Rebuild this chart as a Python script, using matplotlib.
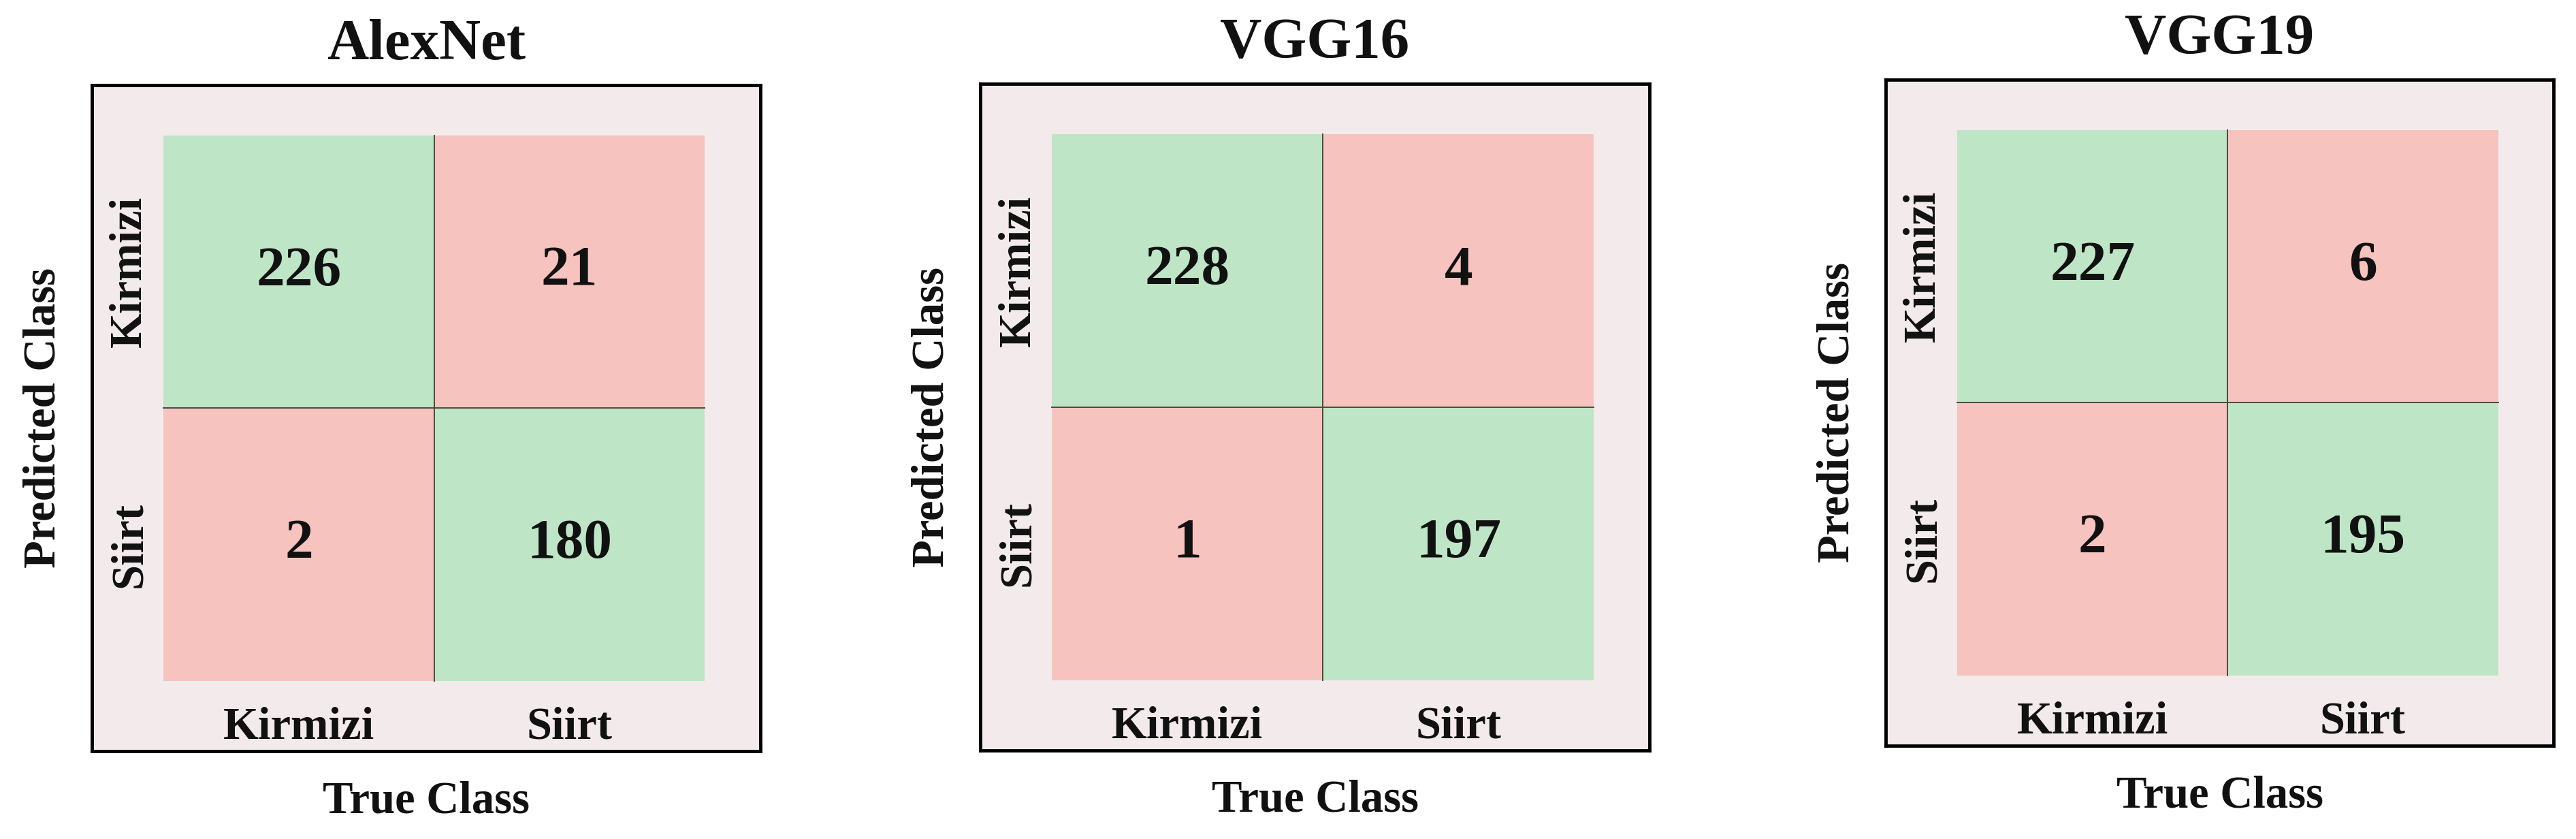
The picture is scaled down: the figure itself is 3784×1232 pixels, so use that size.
import numpy as np
import matplotlib
matplotlib.use("Agg")
import matplotlib.pyplot as plt
from matplotlib.colors import ListedColormap

# ---- data ----
models = ["AlexNet", "VGG16", "VGG19"]
classes = ["Kirmizi", "Siirt"]
alexnet_cm = [[226, 21], [2, 180]]
vgg16_cm = [[228, 4], [1, 197]]
vgg19_cm = [[227, 6], [2, 195]]
matrices = [alexnet_cm, vgg16_cm, vgg19_cm]
x_label = "True Class"
y_label = "Predicted Class"

# ---- style ----
plt.rcParams['font.family'] = ['Liberation Serif', 'DejaVu Serif']
plt.rcParams['font.weight'] = 'bold'
W, H = 3784, 1232
DPI = 100
fig = plt.figure(figsize=(W / DPI, H / DPI), dpi=DPI)

green = "#BEE6C6"
pink = "#F7C3BF"
panel_bg = "#F3EAEB"
cmap = ListedColormap([pink, green])

# box positions in pixels (left, top, right, bottom)
boxes = [(135, 125, 1117, 1103), (1440, 123, 2423, 1102), (2770, 117, 3751, 1095)]

for name, cm, (l, t, r, b) in zip(models, matrices, boxes):
    ax = fig.add_axes([l / W, 1 - b / H, (r - l) / W, (b - t) / H])
    ax.set_facecolor(panel_bg)
    cm = np.array(cm)
    correct = np.eye(len(classes))
    ax.pcolormesh(np.arange(len(classes) + 1), np.arange(len(classes) + 1),
                  correct, cmap=cmap, vmin=0, vmax=1, shading='flat')
    ax.set_xlim(-0.265, 2.205)
    ax.set_ylim(2.258, -0.185)
    # divider lines
    ax.plot([1, 1], [0, 2], color="#4a4a40", lw=1.4)
    ax.plot([0, 2], [1, 1], color="#4a4a40", lw=1.4)
    for i in range(len(classes)):
        for j in range(len(classes)):
            ax.text(j + 0.5, i + 0.5, str(cm[i, j]), ha='center', va='center',
                    fontsize=60, fontweight='bold', color='#111111')
    for k, c in enumerate(classes):
        ax.text(k + 0.5, 2.212, c, ha='center', va='baseline',
                fontsize=48, fontweight='bold', color='#111111')
        ax.text(-0.083, k + 0.5, c, ha='center', va='baseline', rotation=90,
                rotation_mode='anchor', fontsize=48, fontweight='bold', color='#111111')
    ax.set_xticks([])
    ax.set_yticks([])
    for sp in ax.spines.values():
        sp.set_linewidth(3.5)
        sp.set_color('black')
    ax.text(0.5, 1 + 38 / (b - t), name, transform=ax.transAxes, ha='center',
            va='baseline', fontsize=61, fontweight='bold', color='#111111')
    ax.text(0.5, -90 / (b - t), x_label, transform=ax.transAxes, ha='center',
            va='baseline', fontsize=48, fontweight='bold', color='#111111')
    ax.text(-55 / (r - l), 0.5, y_label, transform=ax.transAxes, ha='center',
            va='baseline', rotation=90, rotation_mode='anchor',
            fontsize=48, fontweight='bold', color='#111111')

fig.savefig("out.png", dpi=DPI, facecolor='white')
